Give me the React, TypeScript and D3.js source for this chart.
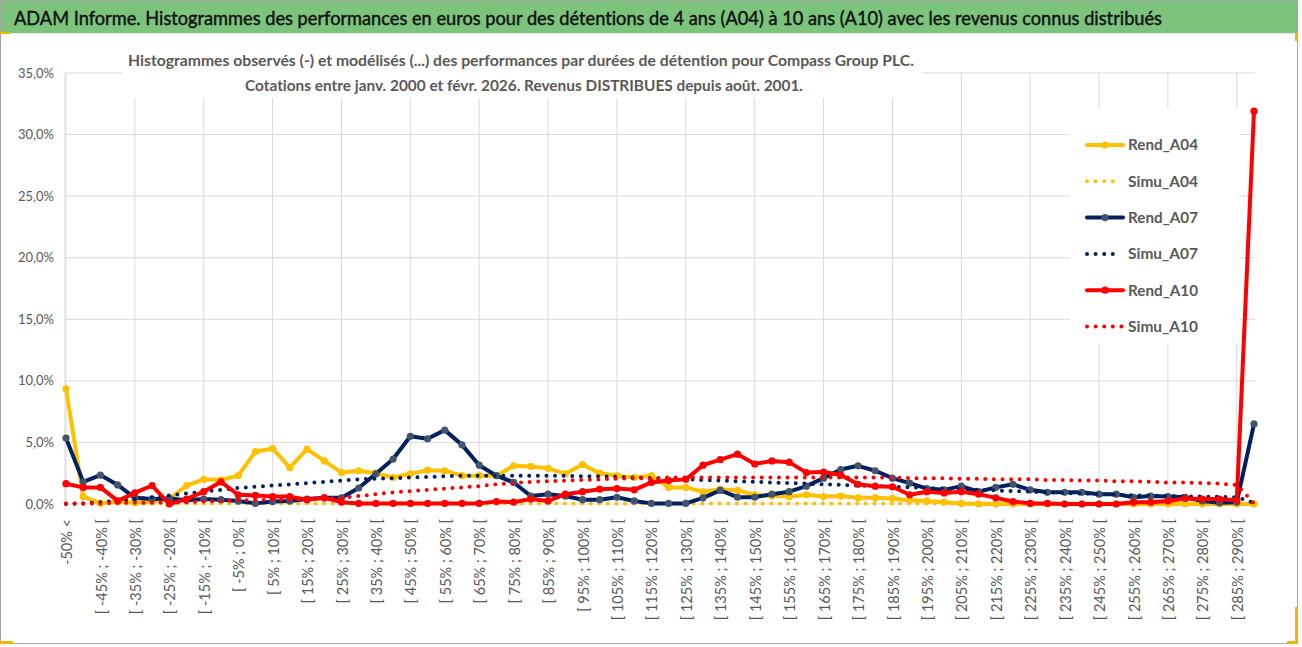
import React from "react";
import * as d3 from "d3";

const categories: string[] = [
  "-50% <", "[ -50% ; -45% [", "[ -45% ; -40% [", "[ -40% ; -35% [", "[ -35% ; -30% [",
  "[ -30% ; -25% [", "[ -25% ; -20% [", "[ -20% ; -15% [", "[ -15% ; -10% [", "[ -10% ; -5% [",
  "[ -5% ; 0% [", "[ 0% ; 5% [", "[ 5% ; 10% [", "[ 10% ; 15% [", "[ 15% ; 20% [",
  "[ 20% ; 25% [", "[ 25% ; 30% [", "[ 30% ; 35% [", "[ 35% ; 40% [", "[ 40% ; 45% [",
  "[ 45% ; 50% [", "[ 50% ; 55% [", "[ 55% ; 60% [", "[ 60% ; 65% [", "[ 65% ; 70% [",
  "[ 70% ; 75% [", "[ 75% ; 80% [", "[ 80% ; 85% [", "[ 85% ; 90% [", "[ 90% ; 95% [",
  "[ 95% ; 100% [", "[ 100% ; 105% [", "[ 105% ; 110% [", "[ 110% ; 115% [", "[ 115% ; 120% [",
  "[ 120% ; 125% [", "[ 125% ; 130% [", "[ 130% ; 135% [", "[ 135% ; 140% [", "[ 140% ; 145% [",
  "[ 145% ; 150% [", "[ 150% ; 155% [", "[ 155% ; 160% [", "[ 160% ; 165% [", "[ 165% ; 170% [",
  "[ 170% ; 175% [", "[ 175% ; 180% [", "[ 180% ; 185% [", "[ 185% ; 190% [", "[ 190% ; 195% [",
  "[ 195% ; 200% [", "[ 200% ; 205% [", "[ 205% ; 210% [", "[ 210% ; 215% [", "[ 215% ; 220% [",
  "[ 220% ; 225% [", "[ 225% ; 230% [", "[ 230% ; 235% [", "[ 235% ; 240% [", "[ 240% ; 245% [",
  "[ 245% ; 250% [", "[ 250% ; 255% [", "[ 255% ; 260% [", "[ 260% ; 265% [", "[ 265% ; 270% [",
  "[ 270% ; 275% [", "[ 275% ; 280% [", "[ 280% ; 285% [", "[ 285% ; 290% [", "290% >",
];

const rendA04: number[] = [
  9.35, 0.6, 0.05, 0.2, 0.1, 0.2, 0.4, 1.5, 2.0, 1.95,
  2.3, 4.25, 4.5, 2.95, 4.45, 3.5, 2.55, 2.7, 2.5, 2.15,
  2.45, 2.75, 2.7, 2.3, 2.3, 2.3, 3.1, 3.05, 2.9, 2.45,
  3.2, 2.5, 2.3, 2.15, 2.3, 1.35, 1.35, 1.0, 1.2, 1.1,
  0.75, 0.65, 0.6, 0.75, 0.6, 0.65, 0.5, 0.5, 0.45, 0.3,
  0.25, 0.15, 0.05, 0.0, 0.0, 0.0, 0.0, 0.0, 0.0, 0.0,
  0.0, 0.0, 0.0, 0.0, 0.0, 0.0, 0.0, 0.0, 0.0, 0.0,
];

const simuA04: number[] = [
  0.05, 0.05, 0.05, 0.05, 0.05, 0.05, 0.05, 0.05, 0.05, 0.05,
  0.05, 0.05, 0.05, 0.05, 0.05, 0.05, 0.05, 0.05, 0.05, 0.05,
  0.05, 0.05, 0.05, 0.05, 0.05, 0.05, 0.05, 0.05, 0.05, 0.05,
  0.05, 0.05, 0.05, 0.05, 0.05, 0.05, 0.05, 0.05, 0.05, 0.05,
  0.05, 0.05, 0.05, 0.05, 0.05, 0.05, 0.05, 0.05, 0.05, 0.05,
  0.05, 0.05, 0.05, 0.05, 0.05, 0.05, 0.05, 0.05, 0.05, 0.05,
  0.05, 0.05, 0.05, 0.05, 0.05, 0.05, 0.05, 0.05, 0.05, 0.05,
];

const rendA07: number[] = [
  5.35, 1.8, 2.35, 1.55, 0.5, 0.4, 0.45, 0.3, 0.4, 0.35,
  0.25, 0.05, 0.2, 0.25, 0.4, 0.5, 0.5, 1.3, 2.45, 3.65,
  5.5, 5.3, 6.0, 4.8, 3.15, 2.3, 1.75, 0.65, 0.8, 0.65,
  0.35, 0.35, 0.55, 0.25, 0.05, 0.05, 0.05, 0.5, 1.1, 0.55,
  0.55, 0.8, 1.0, 1.45, 2.1, 2.8, 3.1, 2.7, 2.1, 1.7,
  1.25, 1.15, 1.45, 1.0, 1.35, 1.6, 1.15, 0.95, 0.95, 0.95,
  0.8, 0.8, 0.55, 0.65, 0.6, 0.55, 0.25, 0.1, 0.15, 6.5,
];

const simuA07: number[] = [
  0.0, 0.05, 0.15, 0.25, 0.4, 0.55, 0.7, 0.85, 1.0, 1.15,
  1.3, 1.4, 1.5, 1.6, 1.7, 1.8, 1.9, 2.0, 2.05, 2.1,
  2.15, 2.2, 2.25, 2.3, 2.3, 2.3, 2.3, 2.3, 2.3, 2.3,
  2.25, 2.25, 2.2, 2.15, 2.1, 2.05, 2.0, 1.95, 1.9, 1.85,
  1.8, 1.75, 1.7, 1.65, 1.6, 1.55, 1.5, 1.45, 1.4, 1.35,
  1.3, 1.25, 1.2, 1.15, 1.1, 1.05, 1.0, 0.95, 0.9, 0.85,
  0.8, 0.75, 0.7, 0.68, 0.65, 0.62, 0.6, 0.58, 0.55, 0.1,
];

const rendA10: number[] = [
  1.65, 1.35, 1.35, 0.25, 0.9, 1.5, 0.0, 0.4, 1.0, 1.8,
  0.75, 0.7, 0.6, 0.6, 0.35, 0.5, 0.15, 0.05, 0.05, 0.05,
  0.05, 0.05, 0.05, 0.05, 0.05, 0.2, 0.15, 0.4, 0.25, 0.8,
  1.0, 1.2, 1.25, 1.15, 1.75, 1.9, 2.0, 3.15, 3.6, 4.05,
  3.25, 3.5, 3.4, 2.55, 2.6, 2.35, 1.6, 1.45, 1.4, 0.75,
  1.0, 0.9, 1.0, 0.8, 0.5, 0.2, 0.05, 0.05, 0.0, 0.0,
  0.0, 0.0, 0.15, 0.15, 0.25, 0.45, 0.4, 0.4, 0.3, 31.9,
];

const simuA10: number[] = [
  0.05, 0.05, 0.05, 0.1, 0.1, 0.1, 0.15, 0.15, 0.2, 0.25,
  0.3, 0.3, 0.35, 0.35, 0.4, 0.45, 0.5, 0.65, 0.8, 0.95,
  1.05, 1.15, 1.25, 1.35, 1.45, 1.6, 1.7, 1.8, 1.85, 1.9,
  1.95, 2.0, 2.05, 2.1, 2.1, 2.15, 2.15, 2.15, 2.15, 2.15,
  2.15, 2.15, 2.15, 2.15, 2.15, 2.15, 2.15, 2.15, 2.15, 2.1,
  2.1, 2.1, 2.05, 2.05, 2.0, 2.0, 2.0, 1.95, 1.95, 1.9,
  1.9, 1.85, 1.85, 1.8, 1.75, 1.75, 1.7, 1.65, 1.55, 0.05,
];

const yTicks: number[] = [0, 5, 10, 15, 20, 25, 30, 35];

const titleText = "ADAM Informe. Histogrammes des performances en euros pour des détentions de 4 ans (A04) à 10 ans (A10) avec les revenus connus distribués";
const subtitle1 = "Histogrammes observés (-)  et modélisés (...) des performances par durées de détention pour Compass Group PLC.";
const subtitle2 = "Cotations entre janv. 2000 et févr. 2026. Revenus DISTRIBUES depuis août. 2001.";

type Series = { name: string; values: number[]; color: string; marker: string | null; dotted: boolean };

const series: Series[] = [
  { name: "Rend_A04", values: rendA04, color: "#FFC000", marker: "#FFC000", dotted: false },
  { name: "Simu_A04", values: simuA04, color: "#FFC000", marker: null, dotted: true },
  { name: "Rend_A07", values: rendA07, color: "#002060", marker: "#44546A", dotted: false },
  { name: "Simu_A07", values: simuA07, color: "#002060", marker: null, dotted: true },
  { name: "Rend_A10", values: rendA10, color: "#FF0000", marker: "#FF0000", dotted: false },
  { name: "Simu_A10", values: simuA10, color: "#FF0000", marker: null, dotted: true },
];

const FONT = "Lato, 'Open Sans', 'Liberation Sans', sans-serif";

export default function App() {
  const W = 1302;
  const H = 647;
  const left = 66, right = 1254, top = 73, bottom = 504;
  const x = d3.scalePoint<string>().domain(categories).range([left, right]);
  const y = d3.scaleLinear().domain([0, 35]).range([bottom, top]);
  const line = d3
    .line<number>()
    .x((_, i) => x(categories[i]) as number)
    .y((v) => y(v));

  const fmt = (v: number) => v.toFixed(1).replace(".", ",") + "%";

  return (
    <svg
      width={W}
      height={H}
      style={{ position: "absolute", left: 0, top: 0, display: "block", fontVariantLigatures: "none" }}
      fontFamily={FONT}
    >
      <rect x={0} y={0} width={W} height={H} fill="#ffffff" />
      {/* outer frame */}
      <rect x={0.5} y={0.5} width={1297} height={643} fill="#ffffff" stroke="#A6A6A6" strokeWidth={1} />
      {/* title bar */}
      <rect x={1} y={1} width={1296} height={32} fill="#7CC47C" />
      <line x1={1} x2={1297} y1={33.5} y2={33.5} stroke="#E6E6E6" strokeWidth={1} />
      <text x={14} y={25} fontSize={20} fill="#111" stroke="#111" strokeWidth={0.45}
        textLength={1148} lengthAdjust="spacingAndGlyphs">
        {titleText}
      </text>

      {/* gridlines */}
      {yTicks.map((t) => (
        <line key={"h" + t} x1={65} x2={right + 1} y1={y(t)} y2={y(t)} stroke="#D9D9D9" strokeWidth={1} />
      ))}
      {categories.map((c, i) =>
        i % 4 === 0 ? (
          <line key={"v" + i} x1={x(c)} x2={x(c)} y1={top} y2={bottom} stroke="#D9D9D9" strokeWidth={1} />
        ) : null
      )}
      <line x1={65} x2={65} y1={top} y2={bottom} stroke="#D9D9D9" strokeWidth={1} />

      {/* chart title box */}
      <rect x={122} y={40} width={800} height={58} fill="#ffffff" />
      <text x={128} y={66} fontSize={15.5} fontWeight={700} fill="#595959" textLength={786} lengthAdjust="spacingAndGlyphs">
        {subtitle1}
      </text>
      <text x={245} y={91} fontSize={15.5} fontWeight={700} fill="#595959" textLength={558} lengthAdjust="spacingAndGlyphs">
        {subtitle2}
      </text>

      {/* y axis labels */}
      {yTicks.map((t) => (
        <text key={"yl" + t} x={54} y={y(t)} dy="0.35em" textAnchor="end" fontSize={13} fill="#595959">
          {fmt(t)}
        </text>
      ))}

      {/* x axis labels */}
      {categories.map((c, i) =>
        i % 2 === 0 ? (
          <text
            key={"xl" + i}
            transform={`translate(${(x(c) as number) + 1},519) rotate(-90)`}
            dy="0.35em"
            textAnchor="end"
            fontSize={14.5}
            fill="#595959"
          >
            {c}
          </text>
        ) : null
      )}

      {/* series */}
      {series.map((s) => (
        <g key={s.name}>
          <path
            d={line(s.values) || ""}
            fill="none"
            stroke={s.color}
            strokeWidth={4}
            strokeLinejoin="round"
            strokeLinecap="round"
            strokeDasharray={s.dotted ? "0 8.6" : undefined}
          />
          {s.marker
            ? s.values.map((v, i) => (
                <circle key={i} cx={x(categories[i])} cy={y(v)} r={3.6} fill={s.marker as string} />
              ))
            : null}
        </g>
      ))}

      {/* legend */}
      <rect x={1070} y={108} width={170} height={235} fill="#ffffff" />
      {series.map((s, k) => {
        const ly = 145 + k * 36.3;
        return (
          <g key={"lg" + s.name}>
            <line
              x1={1087}
              x2={s.dotted ? (s.name === "Simu_A10" ? 1122 : 1114) : 1123}
              y1={ly}
              y2={ly}
              stroke={s.color}
              strokeWidth={4}
              strokeLinecap="round"
              strokeDasharray={s.dotted ? "0 8.6" : undefined}
            />
            {s.marker ? <circle cx={1105} cy={ly} r={3.6} fill={s.marker} /> : null}
            <text x={1128} y={ly} dy="0.35em" fontSize={15.5} fontWeight={700} fill="#595959" textLength={70} lengthAdjust="spacingAndGlyphs">
              {s.name}
            </text>
          </g>
        );
      })}

      {/* selection marks */}
      <rect x={0} y={641} width={13} height={3} fill="#F2B800" />
      <rect x={1295} y={607} width={3} height={37} fill="#F2B800" />
      <rect x={1287} y={641} width={11} height={3} fill="#F2B800" />
      <rect x={0} y={32} width={10} height={2} fill="#F2B800" />
      <rect x={1295} y={33} width={3} height={8} fill="#F2B800" />
    </svg>
  );
}
